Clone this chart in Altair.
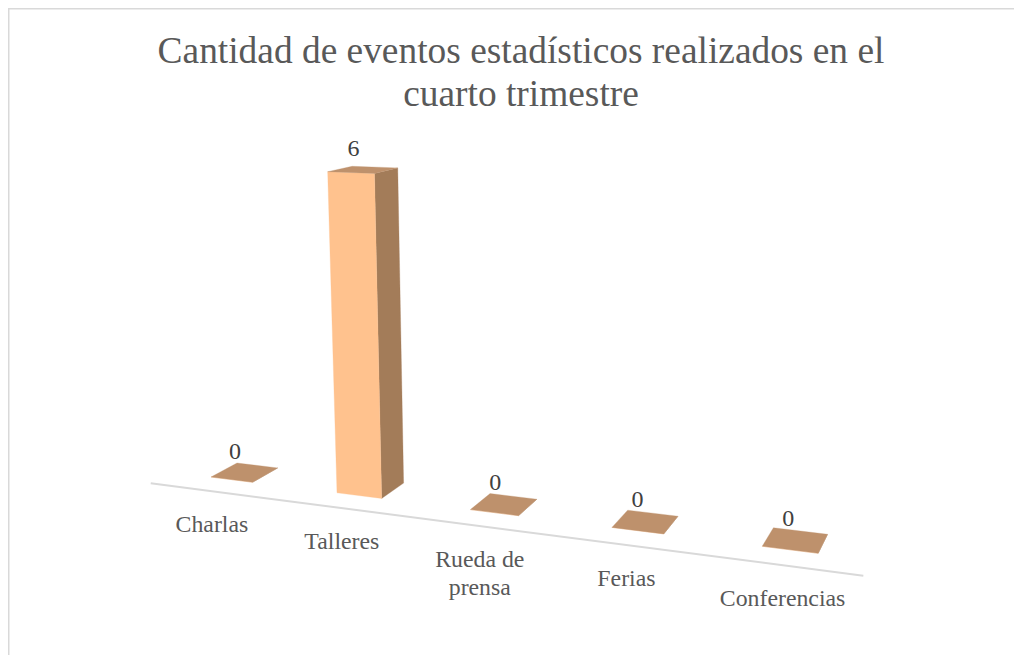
import altair as alt

categories = ["Charlas", "Talleres", "Rueda de\nprensa", "Ferias", "Conferencias"]
values = [0, 6, 0, 0, 0]
title_lines = ["Cantidad de eventos estadísticos realizados en el", "cuarto trimestre"]

FRONT, SIDE, TOP = "#FFC28E", "#A37C59", "#BE916C"
AXIS, LABEL, VALUE = "#D9D9D9", "#595959", "#404040"
SERIF = "Liberation Serif"

# Camera: homography from the floor/height model (u along the axis, v depth, z height) to the page
A, B, C, P = 485.5, 33.22, 211.0, -24.06
D, E, F, Q = -6.03, 0.11, 477.0, -317.8
G, H, R = -0.1488, 0.03047, -0.046
U0, STEP, BOW, WIDTH, AXIS_V = 0.0, 0.2301, 0.0017, 0.0795, -0.77
PAD_LEFT, PAD_RIGHT = 0.115, 0.111
MARGIN = 8
VMAX = max(values)


def project(u, v, z=0.0):
    w = G * u + H * v + R * z + 1
    return [(A * u + B * v + C + P * z) / w - MARGIN, (D * u + E * v + F + Q * z) / w - MARGIN]


def poly(points):
    ring = [project(*p) for p in points]
    return {"type": "Feature", "properties": {},
            "geometry": {"type": "Polygon", "coordinates": [ring + [ring[0]]]}}


n = len(categories)
fronts, sides, tops, value_rows, label_rows = [], [], [], [], []
for i, (cat, val) in enumerate(zip(categories, values)):
    u0 = U0 + i * STEP + BOW * i * (n - 1 - i)
    u1 = u0 + WIDTH
    z = val / VMAX
    fronts.append(poly([(u0, 0, 0), (u1, 0, 0), (u1, 0, z), (u0, 0, z)]))
    sides.append(poly([(u1, 0, 0), (u1, 1, 0), (u1, 1, z), (u1, 0, z)]))
    tops.append(poly([(u0, 0, z), (u1, 0, z), (u1, 1, z), (u0, 1, z)]))
    lx, ly = project(u0 + (i - 0.6) * 0.0065, 1, z * 1.02)
    value_rows.append({"lon": lx, "lat": ly, "text": str(val)})
    cx, cy = project((u0 + u1) / 2, AXIS_V)
    label_rows.append({"lon": cx, "lat": cy, "text": cat})

mid0 = U0 + WIDTH / 2
axis_feature = {"type": "Feature", "properties": {}, "geometry": {"type": "LineString", "coordinates": [
    project(mid0 - PAD_LEFT, AXIS_V), project(mid0 + (n - 1) * STEP + PAD_RIGHT, AXIS_V)]}}

W, H_PX = 1006, 647
frame_feature = {"type": "Feature", "properties": {}, "geometry": {"type": "LineString", "coordinates": [
    [0.5, H_PX], [0.5, 0.5], [W, 0.5]]}}


def shapes(features, color):
    return alt.Chart(alt.Data(values=features, format=alt.DataFormat(type="json"))).mark_geoshape(
        fill=color, stroke=color, strokeWidth=0.3)


def path(feature, color, width):
    return alt.Chart(alt.Data(values=[feature], format=alt.DataFormat(type="json"))).mark_geoshape(
        filled=False, stroke=color, strokeWidth=width)


geo = dict(longitude="lon:Q", latitude="lat:Q", text="text:N")

value_text = alt.Chart(alt.Data(values=value_rows)).mark_text(
    font=SERIF, fontSize=24, color=VALUE, baseline="middle", dy=-11).encode(**geo)
label_text = alt.Chart(alt.Data(values=label_rows)).mark_text(
    font=SERIF, fontSize=23.8, color=LABEL, baseline="alphabetic", dx=1, dy=41, lineBreak="\n", lineHeight=28).encode(**geo)

chart = alt.layer(
    path(frame_feature, AXIS, 2),
    path(axis_feature, AXIS, 2),
    shapes(sides, SIDE),
    shapes(fronts, FRONT),
    shapes(tops, TOP),
    value_text,
    label_text,
).project(type="identity", scale=1, translate=[0, 0]).properties(
    width=W, height=H_PX, padding=0, autosize=alt.AutoSizeParams(type="none"),
    title=alt.TitleParams(text=title_lines, font=SERIF, fontSize=37.4, fontWeight="normal", color=LABEL,
                          anchor="middle", dx=10, dy=109, lineHeight=43),
).configure_view(stroke=None)

chart.save("out.html", embed_options={"renderer": "svg", "actions": False})
